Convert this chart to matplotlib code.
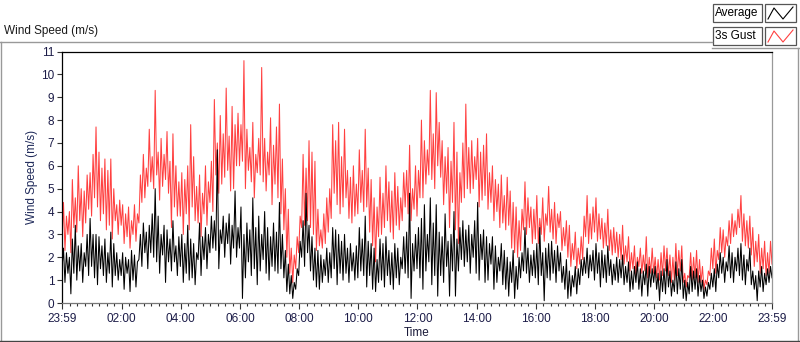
import numpy as np
import matplotlib
matplotlib.use('Agg')
import matplotlib.pyplot as plt
from matplotlib.lines import Line2D
from matplotlib.patches import Rectangle

plt.rcParams['font.family'] = ['Liberation Sans', 'DejaVu Sans']

# wind data, one sample every 3 min from 23:59 to 23:59
# each row = 1 hour
gust = [
    2.6, 4.4, 2.3, 3.8, 3.0, 4.0, 2.2, 5.4, 3.3, 4.6, 3.1, 6.0, 3.6, 5.0, 2.9, 4.9, 3.5, 5.6, 4.1, 5.7,
    3.8, 6.5, 4.6, 7.7, 4.2, 6.6, 3.6, 5.9, 3.9, 6.3, 3.2, 5.8, 3.4, 6.3, 2.8, 5.0, 3.6, 4.3, 3.0, 4.5,
    3.4, 4.3, 2.6, 3.9, 2.9, 4.2, 2.4, 3.6, 3.0, 4.3, 2.7, 3.9, 3.5, 5.6, 4.4, 6.5, 4.6, 5.9, 5.1, 7.6,
    5.3, 6.4, 5.0, 9.3, 5.6, 6.6, 4.5, 7.2, 5.1, 6.5, 5.4, 7.5, 4.8, 6.2, 3.3, 7.4, 4.2, 6.0, 3.8, 5.3,
    3.8, 5.7, 3.0, 5.4, 3.9, 6.0, 3.2, 7.8, 4.2, 6.4, 3.6, 5.1, 3.5, 5.6, 2.9, 4.8, 3.9, 6.0, 3.4, 5.3,
    4.4, 6.2, 4.0, 8.9, 5.6, 7.0, 4.8, 8.2, 5.2, 7.4, 5.5, 9.4, 5.8, 7.3, 4.9, 8.6, 5.0, 7.8, 6.0, 8.3,
    6.0, 7.8, 6.2, 10.6, 5.0, 7.6, 5.8, 6.8, 5.3, 7.9, 4.6, 6.5, 5.7, 7.2, 5.6, 10.3, 5.3, 7.2, 4.9, 6.6,
    5.6, 8.1, 4.3, 6.9, 5.2, 7.7, 4.6, 8.7, 3.9, 6.3, 3.2, 5.0, 2.0, 4.1, 1.3, 2.4, 0.9, 2.1, 1.5, 2.9,
    2.2, 3.8, 3.3, 6.5, 3.4, 5.9, 3.6, 7.1, 3.3, 6.6, 3.0, 6.2, 2.3, 4.1, 2.5, 3.2, 2.4, 3.9, 2.6, 4.6,
    3.1, 5.0, 3.7, 7.8, 4.8, 7.1, 4.3, 7.9, 3.9, 6.4, 4.2, 7.6, 4.6, 5.8, 3.7, 5.5, 3.5, 6.0, 3.8, 5.2,
    3.9, 6.7, 4.4, 5.8, 4.0, 7.6, 4.2, 5.9, 3.1, 5.4, 2.5, 4.6, 1.8, 4.2, 2.9, 5.5, 3.0, 4.8, 3.3, 6.0,
    3.6, 5.3, 3.1, 4.9, 2.8, 5.7, 3.4, 5.1, 3.2, 4.6, 3.6, 5.7, 4.2, 5.8, 3.9, 6.9, 3.6, 5.0, 4.1, 6.0,
    3.8, 5.8, 4.6, 8.0, 4.6, 7.1, 5.2, 6.7, 5.6, 9.3, 5.4, 7.4, 5.0, 9.2, 6.0, 7.9, 5.5, 7.1, 4.3, 6.4,
    4.8, 6.8, 3.3, 6.2, 4.4, 7.9, 3.2, 6.6, 2.6, 5.7, 4.4, 7.0, 4.6, 8.7, 5.0, 6.8, 4.8, 7.1, 5.0, 6.4,
    5.4, 7.2, 4.2, 6.6, 4.5, 6.9, 4.7, 7.4, 4.1, 5.7, 4.4, 6.0, 3.6, 5.4, 4.0, 5.2, 3.3, 5.6, 3.5, 4.7,
    3.2, 5.5, 3.4, 4.9, 2.4, 4.4, 2.2, 4.2, 2.0, 3.6, 2.3, 4.1, 3.2, 5.3, 3.0, 4.6, 3.3, 4.2, 2.6, 4.1,
    2.8, 4.7, 2.6, 3.7, 3.0, 4.6, 2.7, 3.9, 3.4, 5.1, 3.1, 4.1, 2.8, 4.4, 2.6, 3.9, 3.3, 4.0, 2.3, 3.3,
    2.5, 3.6, 2.0, 3.4, 1.6, 2.6, 1.9, 3.1, 1.5, 2.4, 1.7, 2.9, 1.9, 3.8, 2.9, 4.7, 2.6, 3.9, 2.8, 4.2,
    3.1, 4.6, 2.7, 3.9, 2.8, 3.7, 2.4, 3.5, 2.5, 4.1, 2.3, 3.2, 2.1, 3.3, 2.2, 3.1, 2.0, 3.0, 1.9, 3.4,
    1.7, 2.5, 1.8, 2.9, 1.4, 2.2, 1.5, 2.5, 1.2, 2.0, 1.6, 2.4, 1.3, 2.1, 1.4, 2.9, 1.1, 2.0, 1.3, 2.4,
    1.3, 2.0, 1.1, 1.9, 1.0, 2.2, 1.2, 2.5, 1.4, 2.4, 1.2, 2.1, 0.9, 2.0, 1.0, 2.6, 1.2, 2.3, 1.4, 2.5,
    0.9, 1.3, 0.7, 1.2, 1.1, 2.2, 1.0, 2.0, 1.1, 2.3, 0.9, 1.9, 0.9, 1.6, 0.6, 1.0, 0.8, 1.4, 1.2, 2.4,
    1.5, 2.8, 1.3, 2.3, 1.9, 3.3, 2.2, 3.2, 2.0, 2.9, 2.5, 3.6, 2.6, 3.9, 2.9, 3.6, 3.0, 4.1, 3.3, 4.7,
    2.7, 3.9, 2.5, 3.6, 2.4, 3.8, 2.1, 3.3, 1.6, 2.7, 1.8, 3.0, 1.3, 2.4, 1.5, 2.7, 1.2, 2.2, 1.3, 2.7,
    1.7,
]
average = [
    1.5, 2.4, 0.9, 2.2, 1.3, 2.0, 0.4, 2.8, 1.3, 3.4, 1.0, 2.5, 1.4, 2.6, 0.9, 2.2, 1.6, 3.0, 1.2, 3.7,
    1.6, 3.0, 1.1, 3.0, 0.8, 2.9, 1.5, 2.5, 1.2, 2.8, 0.9, 2.2, 1.3, 3.1, 0.7, 2.6, 1.2, 2.2, 1.0, 1.9,
    1.2, 2.2, 0.6, 2.0, 1.3, 1.9, 0.5, 2.3, 1.0, 2.1, 0.7, 1.8, 1.9, 3.0, 1.6, 3.5, 2.2, 3.1, 1.5, 3.4,
    2.2, 3.9, 2.0, 5.0, 1.8, 3.8, 1.3, 3.0, 2.1, 3.4, 0.9, 3.2, 1.8, 2.8, 1.4, 3.6, 1.8, 2.5, 1.2, 2.9,
    1.6, 3.0, 0.9, 2.6, 1.3, 3.4, 1.0, 2.8, 1.1, 2.6, 0.8, 2.2, 1.9, 3.5, 1.2, 2.9, 1.9, 3.3, 1.5, 3.0,
    2.2, 3.8, 2.4, 3.6, 2.3, 6.7, 1.5, 3.2, 2.6, 3.8, 2.0, 3.5, 2.6, 3.9, 1.7, 3.4, 2.4, 4.9, 2.0, 3.3,
    2.4, 4.2, 0.2, 3.0, 1.1, 3.5, 1.8, 3.2, 1.2, 4.6, 1.5, 3.3, 0.8, 3.8, 1.4, 3.0, 1.9, 4.0, 1.3, 3.3,
    1.0, 2.9, 1.6, 3.5, 1.4, 3.1, 1.3, 4.4, 1.5, 3.0, 1.1, 2.3, 0.5, 1.7, 0.4, 1.2, 0.2, 0.9, 0.6, 1.5,
    1.2, 2.7, 2.0, 3.6, 1.6, 4.8, 2.2, 3.4, 1.4, 2.9, 1.0, 2.4, 0.7, 2.3, 0.6, 2.1, 0.9, 1.9, 1.2, 2.4,
    0.9, 2.2, 1.1, 3.3, 1.5, 3.2, 0.8, 3.0, 1.3, 2.7, 1.0, 3.0, 1.3, 2.4, 0.9, 2.6, 1.4, 2.2, 1.0, 2.5,
    1.1, 3.3, 1.4, 2.8, 1.2, 3.8, 0.7, 2.7, 1.2, 2.6, 0.6, 2.4, 0.5, 1.9, 0.9, 2.8, 1.0, 2.6, 0.7, 2.9,
    1.2, 2.3, 0.8, 2.2, 0.6, 2.6, 1.1, 2.4, 0.8, 2.0, 1.5, 2.9, 1.3, 3.1, 1.1, 4.8, 0.2, 2.6, 1.4, 3.0,
    1.5, 3.3, 1.1, 3.7, 0.6, 4.3, 1.4, 3.0, 1.8, 4.6, 0.8, 3.5, 1.2, 4.3, 0.3, 3.1, 1.2, 2.9, 0.9, 3.9,
    1.6, 2.7, 0.3, 3.0, 1.4, 4.0, 0.3, 2.8, 1.4, 3.3, 1.9, 3.6, 1.6, 3.2, 1.8, 3.4, 1.3, 3.0, 2.0, 3.6,
    1.3, 4.4, 1.0, 3.0, 1.9, 3.2, 0.9, 2.9, 1.0, 2.6, 1.7, 2.9, 0.6, 2.5, 0.9, 2.0, 1.4, 2.6, 0.8, 2.3,
    0.6, 2.0, 0.3, 1.8, 0.9, 2.3, 0.2, 1.6, 0.6, 2.0, 1.1, 2.2, 1.4, 3.3, 1.3, 2.4, 0.9, 2.1, 1.2, 2.3,
    1.1, 2.6, 0.8, 3.3, 1.2, 2.2, 0.1, 2.4, 1.1, 2.6, 1.0, 2.7, 1.3, 2.3, 0.9, 2.5, 1.4, 2.2, 0.9, 1.6,
    0.6, 1.9, 0.2, 1.4, 0.3, 1.2, 0.7, 1.6, 0.4, 1.5, 0.8, 1.9, 1.2, 2.0, 1.3, 2.4, 1.1, 2.1, 1.4, 2.3,
    1.0, 2.6, 1.3, 2.2, 0.7, 2.3, 1.1, 2.1, 0.9, 2.5, 1.2, 1.9, 0.8, 1.7, 1.0, 2.0, 0.9, 1.9, 1.1, 2.1,
    0.8, 1.6, 0.9, 1.8, 0.5, 1.4, 0.6, 1.6, 0.9, 1.8, 0.6, 1.5, 0.3, 1.4, 0.8, 1.7, 0.3, 1.6, 0.7, 1.5,
    0.9, 1.6, 0.6, 1.3, 0.1, 1.4, 0.5, 1.5, 0.4, 1.9, 0.7, 1.4, 0.3, 1.0, 0.5, 1.8, 0.4, 1.5, 0.6, 1.9,
    0.2, 1.0, 0.1, 0.9, 0.4, 1.6, 0.5, 1.4, 0.6, 1.5, 0.3, 1.2, 0.5, 1.0, 0.2, 0.7, 0.3, 0.9, 0.6, 1.3,
    0.7, 1.5, 0.5, 1.7, 1.1, 2.2, 1.3, 2.0, 0.9, 1.8, 1.4, 2.5, 1.1, 2.2, 0.9, 2.0, 1.4, 2.4, 1.2, 2.6,
    1.0, 2.1, 0.8, 1.9, 1.4, 2.4, 0.8, 1.4, 0.6, 1.2, 0.1, 1.4, 0.7, 1.6, 0.5, 1.3, 0.8, 1.5, 0.9, 1.6,
    1.1,
]
step_min = 3
tick_labels = ['23:59', '02:00', '04:00', '06:00', '08:00', '10:00', '12:00',
               '14:00', '16:00', '18:00', '20:00', '22:00', '23:59']

# minutes since midnight, start is 23:59 of the day before
t = np.arange(len(gust)) * step_min - 1

W, H = 800, 342
fig = plt.figure(figsize=(W / 100, H / 100), dpi=100)
ax = fig.add_axes([62 / W, (H - 303) / H, 710 / W, 251.5 / H])

ax.plot(t, gust, color='#ff4040', lw=0.75)
ax.plot(t, average, color='black', lw=0.75)

ax.set_xlim(-1, 1439)
ax.set_ylim(0, 11)
ax.set_yticks(range(0, 12))
major = [-1] + list(range(120, 1440, 120)) + [1439]
ax.set_xticks(major)
ax.set_xticklabels(tick_labels)
ax.set_xticks([m for m in range(15, 1439, 15) if m % 120 != 0], minor=True)

lab_col = '#1c1c48'
ax.tick_params(axis='both', direction='out', labelsize=8.5, colors='#333333',
               labelcolor=lab_col, width=0.8)
ax.tick_params(axis='x', which='major', length=4, pad=3)
ax.tick_params(axis='x', which='minor', length=2.5, width=0.8, colors='#333333')
ax.tick_params(axis='y', length=3.5, pad=2)

ax.spines['top'].set_color('black')
ax.spines['left'].set_color('black')
ax.spines['right'].set_color('#999999')
ax.spines['bottom'].set_color('#777777')
for s in ax.spines.values():
    s.set_linewidth(0.9)

ax.set_ylabel('Wind Speed (m/s)', fontsize=8.5, color='#1f2a5a', labelpad=2)
ax.set_xlabel('Time', fontsize=8.5, color='#1a1a3a', labelpad=2)


def px(x, y):
    return x / W, 1 - y / H


def fline(x0, y0, x1, y1, color='#999999', lw=1.0):
    a, b = px(x0, y0)
    c, d = px(x1, y1)
    fig.add_artist(Line2D([a, c], [b, d], color=color, lw=lw))


# panel frame
fline(0, 42, 712, 42)
fline(712, 48, 800, 48)
fline(1, 42, 1, 341)
fline(798, 48, 798, 341)
fline(0, 340.5, 800, 340.5, color='#444444')
fig.text(4 / W, 1 - 31 / H, 'Wind Speed (m/s)', fontsize=8.5, color='#1a1a1a', va='center')

# legend boxes
for row, (name, col) in enumerate([('Average', 'black'), ('3s Gust', '#ff4040')]):
    y0 = 4 + row * 23
    x0, y1 = px(713, y0 + 18)
    fig.add_artist(Rectangle((x0, y1), 49 / W, 18 / H, transform=fig.transFigure,
                             facecolor='white', edgecolor='#555555', lw=0.9))
    x0, y1 = px(765, y0 + 18)
    fig.add_artist(Rectangle((x0, y1), 31 / W, 18 / H, transform=fig.transFigure,
                             facecolor='white', edgecolor='#555555', lw=0.9))
    zx = [768, 774, 783, 793]
    zy = [y0 + 15, y0 + 4, y0 + 15, y0 + 3]
    fig.add_artist(Line2D([v / W for v in zx], [1 - v / H for v in zy], color=col, lw=0.8))
    fig.text(715 / W, 1 - (y0 + 9) / H, name, fontsize=8.5, color='black', va='center')

fig.savefig('out.png', dpi=100)
